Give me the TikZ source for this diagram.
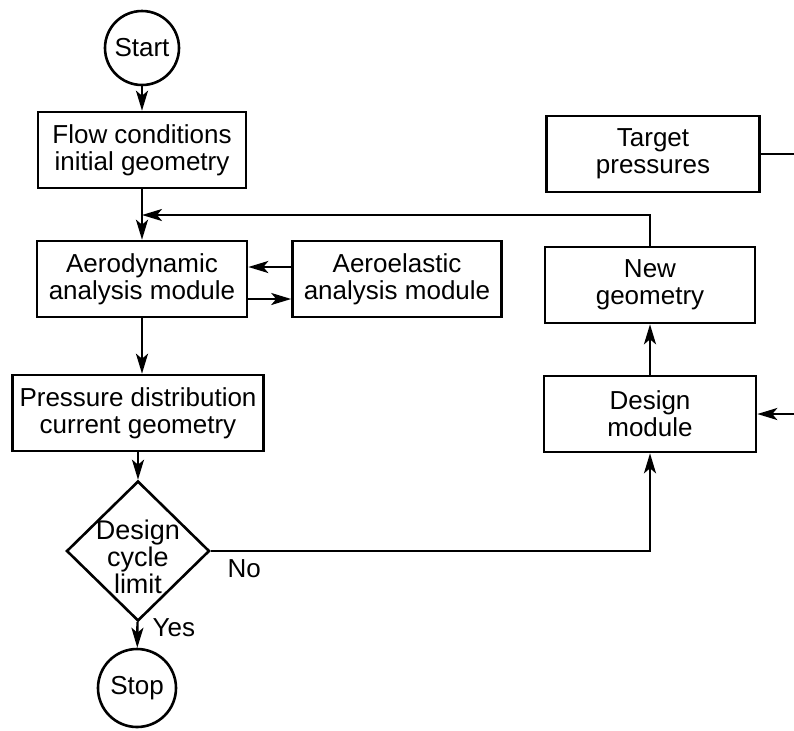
\documentclass[tikz,border=0pt]{standalone}
\usepackage{fontspec}
\setmainfont{Liberation Sans}
\usetikzlibrary{shapes.geometric,arrows.meta,positioning,calc}

\begin{document}
\begin{tikzpicture}[x=0.5pt, y=-0.5pt,
			font=\fontsize{13}{13.5}\selectfont,
			block/.style={rectangle, draw=black, line width=1.3pt, fill=white,
				align=center, minimum width=105pt, minimum height=38pt, inner sep=2pt},
			term/.style={circle, draw=black, line width=1.3pt, inner sep=0pt},
			decision/.style={diamond, draw=black, line width=1.3pt,
				minimum width=71.5pt, minimum height=70pt, inner sep=0pt},
			line/.style={draw, line width=1.2pt, -{Stealth[length=10pt,width=6pt,inset=2.5pt]}},
			plain/.style={draw, line width=1.2pt}]
			
			\useasboundingbox (0,0) rectangle (794,730);
			
			% Main column
			\node[term, minimum size=37pt] (start) at (142,48) {Start};
			\node[block, minimum width=104pt] (flow) at (142,150) {Flow conditions\\initial geometry};
			\node[block] (aero) at (142,279) {Aerodynamic\\analysis module};
			\node[block, minimum width=104.5pt] (elastic) at (397,279) {Aeroelastic\\analysis module};
			\node[block, minimum width=125.5pt] (press) at (138,413) {Pressure distribution\\current geometry};
			\node[decision, label={[align=center, font=\fontsize{13.5}{12.5}\selectfont, yshift=-3pt]center:{Design\\cycle\\limit}}] (cycle) at (138,551) {};
			\node[term, minimum size=39pt] (stop) at (137,688) {Stop};
			
			% Design loop
			\node[block, minimum width=106.5pt] (target) at (653,154) {Target\\pressures};
			\node[block] (newgeo) at (650,285) {New\\geometry};
			\node[block, minimum width=106pt] (design) at (650,414) {Design\\module};
			
			\coordinate (merge) at (142,215);
			\coordinate (tpout) at (794,154);
			\coordinate (dsin) at (794,414);
			
			\path[line] (start) -- (flow);
			\path[plain] (flow) -- (merge);
			\path[line] (merge) -- (aero);
			\path[line] ($(elastic.west)+(0,-12)$) -- ($(aero.east)+(0,-12)$);
			\path[line] ($(aero.east)+(0,20)$) -- ($(elastic.west)+(0,20)$);
			\path[line] (aero) -- (aero |- press.north);
			\path[line] (press) -- (cycle);
			\path[line] (cycle) -- (stop) node[pos=0.24, anchor=west, inner sep=0pt, xshift=7pt] {Yes};
			\path[line] (cycle.east) -| (design.south) node[pos=0.038, below, inner sep=3.5pt] {No};
			
			\path[line] (design) -- (newgeo);
			\path[line] (newgeo.north) |- (merge);
			\path[plain] (target.east) -- (tpout);
			\path[line] (dsin) -- (design.east);
		\end{tikzpicture}
\end{document}
